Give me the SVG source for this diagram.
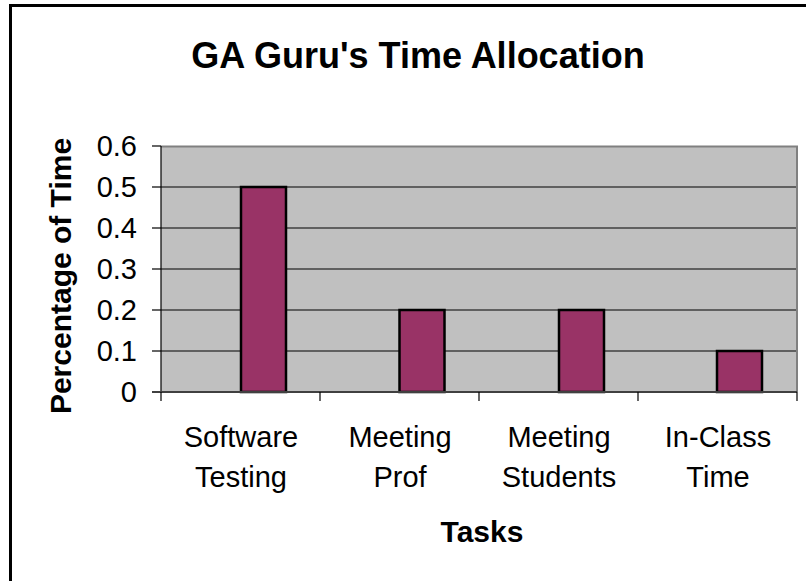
<svg xmlns="http://www.w3.org/2000/svg" width="806" height="581" viewBox="0 0 806 581">
  <style>
    .t { font-family: "Liberation Sans", Arial, sans-serif; fill: #000; }
    .title { font-size: 36px; font-weight: bold; }
    .axt { font-size: 30px; font-weight: bold; }
    .tick { font-size: 29px; }
    .cat { font-size: 29px; text-anchor: middle; }
    .grid { stroke: #000; stroke-width: 1.2; }
    .tk { stroke: #000; stroke-width: 1.2; }
    .bar { fill: #993366; stroke: #000; stroke-width: 2.5; }
  </style>
  <rect x="0" y="0" width="806" height="581" fill="#fff"/>
  <rect id="frame" x="10.5" y="5.5" width="820" height="600" fill="none" stroke="#000" stroke-width="3"/>

  <g id="title">
    <text class="t title" x="418" y="68" text-anchor="middle">GA Guru's Time Allocation</text>
  </g>

  <g id="plot">
    <rect x="161" y="146" width="636" height="246" fill="#C0C0C0"/>
    <line class="grid" x1="161" y1="187" x2="797" y2="187"/>
    <line class="grid" x1="161" y1="228" x2="797" y2="228"/>
    <line class="grid" x1="161" y1="269" x2="797" y2="269"/>
    <line class="grid" x1="161" y1="310" x2="797" y2="310"/>
    <line class="grid" x1="161" y1="351" x2="797" y2="351"/>
    <polyline points="161,146.5 797,146.5 797,392" fill="none" stroke="#808080" stroke-width="2"/>
  </g>

  <g id="bars">
    <rect id="bar-software-testing" class="bar" x="241" y="187" width="45" height="205"/>
    <rect id="bar-meeting-prof" class="bar" x="399.5" y="310" width="45" height="82"/>
    <rect id="bar-meeting-students" class="bar" x="559" y="310" width="45" height="82"/>
    <rect id="bar-in-class-time" class="bar" x="717" y="351" width="45" height="41"/>
  </g>

  <g id="axes">
    <line x1="161" y1="146" x2="161" y2="393" stroke="#000" stroke-width="1.2"/>
    <line x1="152" y1="392" x2="797" y2="392" stroke="#404040" stroke-width="2"/>
    <line class="tk" x1="152" y1="146" x2="161" y2="146"/>
    <line class="tk" x1="152" y1="187" x2="161" y2="187"/>
    <line class="tk" x1="152" y1="228" x2="161" y2="228"/>
    <line class="tk" x1="152" y1="269" x2="161" y2="269"/>
    <line class="tk" x1="152" y1="310" x2="161" y2="310"/>
    <line class="tk" x1="152" y1="351" x2="161" y2="351"/>
    <line class="tk" x1="161" y1="392" x2="161" y2="401"/>
    <line class="tk" x1="320" y1="392" x2="320" y2="401"/>
    <line class="tk" x1="479" y1="392" x2="479" y2="401"/>
    <line class="tk" x1="638" y1="392" x2="638" y2="401"/>
    <line class="tk" x1="797" y1="392" x2="797" y2="401"/>
  </g>

  <g id="y-labels" class="t tick" text-anchor="end">
    <text x="137" y="156">0.6</text>
    <text x="137" y="197">0.5</text>
    <text x="137" y="238">0.4</text>
    <text x="137" y="279">0.3</text>
    <text x="137" y="320">0.2</text>
    <text x="137" y="361">0.1</text>
    <text x="137" y="402">0</text>
  </g>

  <g id="x-labels" class="t cat">
    <text x="241" y="447">Software</text>
    <text x="241" y="487">Testing</text>
    <text x="400" y="447">Meeting</text>
    <text x="400" y="487">Prof</text>
    <text x="559" y="447">Meeting</text>
    <text x="559" y="487">Students</text>
    <text x="718" y="447">In-Class</text>
    <text x="718" y="487">Time</text>
  </g>

  <g id="axis-titles">
    <text class="t axt" x="482" y="542" text-anchor="middle">Tasks</text>
    <text class="t axt" transform="translate(71,276) rotate(-90)" text-anchor="middle">Percentage of Time</text>
  </g>
</svg>
